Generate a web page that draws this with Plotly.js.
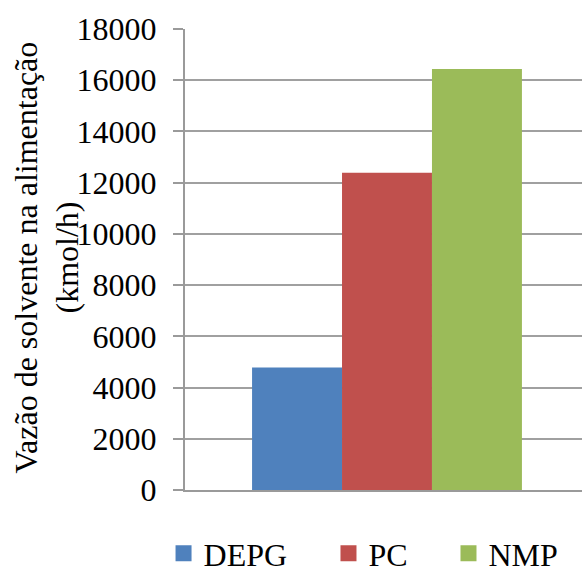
<!DOCTYPE html>
<html>
<head>
<meta charset="utf-8">
<script src="https://cdn.plot.ly/plotly-3.0.1.min.js"></script>
<style>
  html, body { margin: 0; padding: 0; background: #fff; }
  #chart { width: 582px; height: 566px; }
</style>
</head>
<body>
<div id="chart"></div>
<script>
// Solvent feed flow by solvent (kmol/h)
const category = [''];
const solvents = ['DEPG', 'PC', 'NMP'];
const flowDEPG = [4780];
const flowPC = [12390];
const flowNMP = [16440];
const colors = ['#4F81BD', '#C0504D', '#9BBB59'];
const yTicks = [0, 2000, 4000, 6000, 8000, 10000, 12000, 14000, 16000, 18000];
const gridTicks = [2000, 4000, 6000, 8000, 10000, 12000, 14000, 16000];
const yTitleLines = ['Vazão de solvente na alimentação', '(kmol/h)'];

const font = { family: 'Liberation Serif', size: 32, color: '#000' };
const series = [flowDEPG, flowPC, flowNMP];
const legendIds = ['legend', 'legend2', 'legend3'];
const legendX = [0.281, 0.5644, 0.7706];
const titleShift = [-160, -119];

const traces = [];
series.forEach((vals, i) => {
  traces.push({
    type: 'bar', x: category, y: vals, name: solvents[i],
    marker: { color: colors[i] }, showlegend: false, hoverinfo: 'y'
  });
});
// legend swatches, one legend per entry so each can sit at its own spot
series.forEach((vals, i) => {
  traces.push({
    type: 'scatter', mode: 'markers', x: [null], y: [null], name: solvents[i],
    legend: legendIds[i],
    marker: { symbol: 'square', size: 17, color: colors[i] }, showlegend: true
  });
});
// grid overlay axis (no grid line at the top of the range)
traces.push({ type: 'scatter', x: [null], y: [null], yaxis: 'y2', showlegend: false, hoverinfo: 'skip' });

const layout = {
  width: 582, height: 566,
  margin: { l: 185, r: 0, t: 29, b: 76, autoexpand: false },
  paper_bgcolor: '#fff', plot_bgcolor: 'rgba(0,0,0,0)',
  font: font,
  barmode: 'group', bargap: 0.332, bargroupgap: 0,
  showlegend: true,
  xaxis: {
    type: 'category', range: [-0.5, 0.4827], showticklabels: false,
    showline: true, linecolor: '#9a9a9a', linewidth: 2, ticks: '', showgrid: false, zeroline: false,
    fixedrange: true
  },
  yaxis: {
    range: [0, 18000], tickvals: yTicks, ticktext: yTicks.map(String),
    showline: true, linecolor: '#9a9a9a', linewidth: 2,
    ticks: 'outside', ticklen: 10, tickwidth: 2, tickcolor: '#9a9a9a',
    ticklabelstandoff: 10,
    showgrid: false, zeroline: false, tickfont: font, fixedrange: true
  },
  yaxis2: {
    overlaying: 'y', range: [0, 18000], tickvals: gridTicks,
    showticklabels: false, ticks: '', showline: false, zeroline: false,
    showgrid: true, gridcolor: '#a0a0a0', gridwidth: 2, fixedrange: true
  },
  // vertical axis title, one annotation per line
  annotations: yTitleLines.map((line, i) => ({
    text: line, xref: 'paper', yref: 'paper', x: 0, y: 0.5,
    xanchor: 'center', yanchor: 'middle', xshift: titleShift[i], yshift: 2, textangle: -90,
    showarrow: false, font: font
  }))
};
legendIds.forEach((id, i) => {
  layout[id] = {
    orientation: 'h', xref: 'container', yref: 'container',
    x: legendX[i], xanchor: 'left', y: 0.0222, yanchor: 'middle',
    font: font, bgcolor: 'rgba(0,0,0,0)', borderwidth: 0,
    itemclick: false, itemdoubleclick: false
  };
});

Plotly.newPlot('chart', traces, layout, { displayModeBar: false, staticPlot: true });
</script>
</body>
</html>
